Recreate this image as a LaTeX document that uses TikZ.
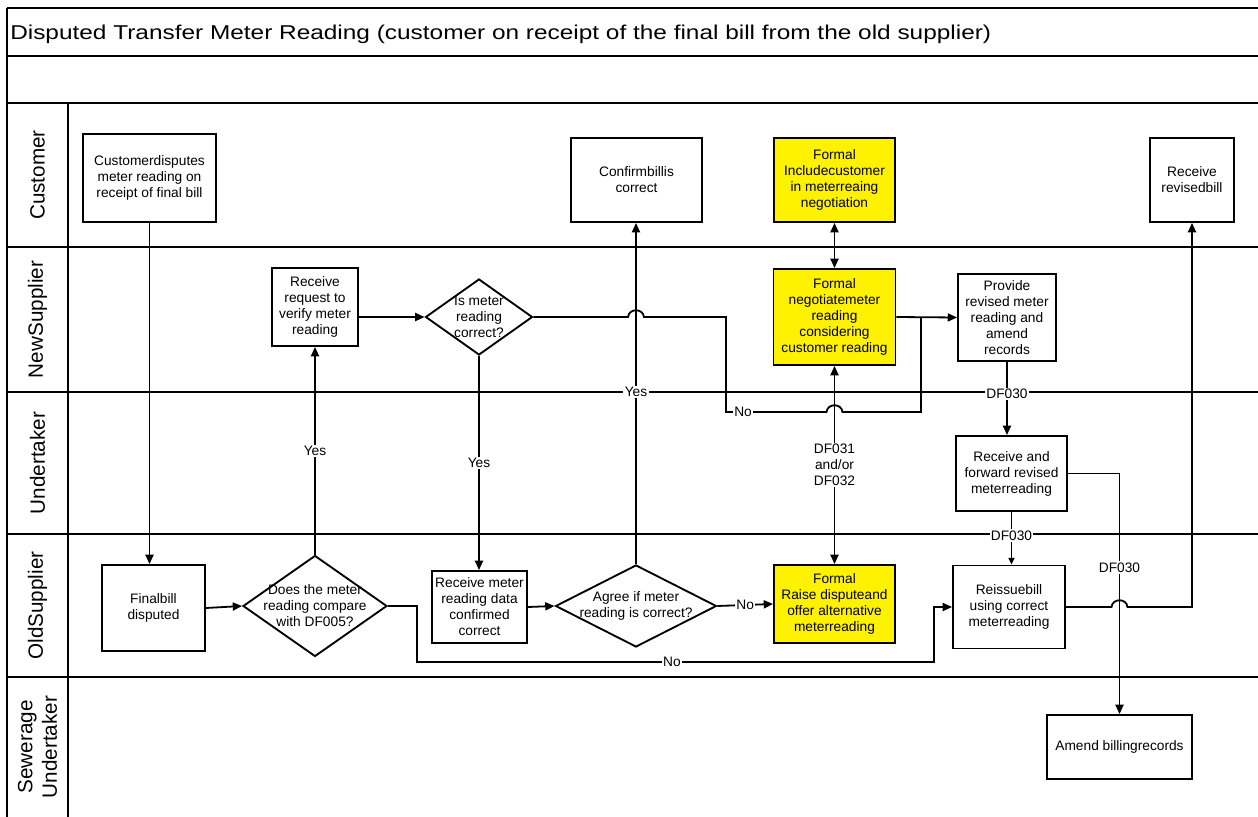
\documentclass[tikz,border=0pt]{standalone}
\usepackage{fontspec}
\setmainfont{Liberation Sans}
\newfontfamily\headingfont[FakeStretch=1.22]{Liberation Sans}
\usetikzlibrary{arrows.meta,shapes.geometric}

\tikzset{
  body/.style={font=\fontsize{10.3}{12}\selectfont},
  box/.style={draw, line width=1.4pt, fill=white, align=center, inner sep=1pt, body},
  hot/.style={box, fill=yellow},
  decision/.style={draw, shape=diamond, line width=1.4pt, fill=white, inner sep=0pt},
  dtext/.style={body, align=center, inner sep=0pt},
  lane/.style={line width=1.6pt},
  lanelabel/.style={rotate=90, font=\fontsize{15.5}{18.5}\selectfont, align=center},
  conn/.style={line width=1.35pt},
  arr/.style={conn, -{Triangle[length=7pt,width=6pt]}},
  smallarr/.style={conn, -{Triangle[length=5pt,width=4.5pt]}},
  darr/.style={conn, {Triangle[length=7pt,width=6pt]}-{Triangle[length=7pt,width=6pt]}},
  lbl/.style={fill=white, inner sep=1pt, body, align=center}
}

\begin{document}
\begin{tikzpicture}[x=0.75pt, y=-0.75pt]
\useasboundingbox (0,0) rectangle (1258,817);

% frame, title rows and swimlanes
\draw[lane] (7,8) -- (1258,8);
\draw[lane] (7,56) -- (1258,56);
\draw[lane] (7,103) -- (1258,103);
\draw[lane] (7,247) -- (1258,247);
\draw[lane] (7,392) -- (1258,392);
\draw[lane] (7,534) -- (1258,534);
\draw[lane] (7,677) -- (1258,677);
\draw[lane] (7,8) -- (7,817);
\draw[lane] (68,103) -- (68,817);

\node[anchor=base west, font=\headingfont\fontsize{15}{18}\selectfont, inner sep=0pt] (title) at (10,40)
  {Disputed Transfer Meter Reading (customer on receipt of the final bill from the old supplier)};

\node[lanelabel] (lcust) at (37.5,175) {Customer};
\node[lanelabel] (lnew) at (37.5,319.5) {NewSupplier};
\node[lanelabel] (lund) at (37.5,463) {Undertaker};
\node[lanelabel] (lold) at (37.5,605.5) {OldSupplier};
\node[lanelabel] (lsew) at (37.5,747) {Sewerage\\Undertaker};

% process steps
\node[box, minimum width=99.75pt, minimum height=66pt] (cust) at (149.5,178)
  {Customerdisputes\\meter reading on\\receipt of final bill};
\node[box, minimum width=98.25pt, minimum height=63pt] (conf) at (636.5,180)
  {Confirmbillis\\correct};
\node[hot, minimum width=90.75pt, minimum height=63pt] (incl) at (834.5,180)
  {Formal\\Includecustomer\\in meterreaing\\negotiation};
\node[box, minimum width=63pt, minimum height=63pt] (rrb) at (1192,180)
  {Receive\\revisedbill};

\node[box, minimum width=64.5pt, minimum height=58.5pt] (rreq) at (315,307)
  {Receive\\request to\\verify meter\\reading};
\node[decision, minimum width=80.25pt, minimum height=57pt,
  label={[dtext]center:Is meter\\reading\\correct?}] (isd) at (479,317) {};
\node[hot, minimum width=91.5pt, minimum height=72pt] (nego) at (834.5,317)
  {Formal\\negotiatemeter\\reading\\considering\\customer reading};
\node[box, minimum width=73.5pt, minimum height=65.25pt] (prov) at (1007,317.5)
  {Provide\\revised meter\\reading and\\amend\\records};

\node[box, minimum width=83.25pt, minimum height=56.25pt] (rfwd) at (1011.5,473.5)
  {Receive and\\forward revised\\meterreading};

\node[box, minimum width=77.25pt, minimum height=64.5pt] (fb) at (153.5,608)
  {Finalbill\\disputed};
\node[decision, minimum width=108pt, minimum height=75.75pt,
  label={[dtext]center:Does the meter\\reading compare\\with DF005?}] (dsd) at (315,606) {};
\node[box, minimum width=71.25pt, minimum height=54pt] (rmd) at (479.5,607)
  {Receive meter\\reading data\\confirmed\\correct};
\node[decision, minimum width=120.75pt, minimum height=61.5pt,
  label={[dtext]center:Agree if meter\\reading is correct?}] (agd) at (636,606) {};
\node[hot, minimum width=90.75pt, minimum height=58.5pt] (raise) at (834.5,604)
  {Formal\\Raise disputeand\\offer alternative\\meterreading};
\node[box, minimum width=84pt, minimum height=62.25pt] (reis) at (1009,607)
  {Reissuebill\\using correct\\meterreading};

\node[box, minimum width=108.75pt, minimum height=48pt] (amend) at (1119.5,747)
  {Amend billingrecords};

% bend points of the routed connectors
\coordinate (nA) at (726,317);
\coordinate (nB) at (726,412);
\coordinate (nC) at (921,412);
\coordinate (b1) at (417,606);
\coordinate (b2) at (417,662);
\coordinate (b3) at (934,662);

% connectors
\draw[arr] (cust.south) -- (cust.south |- fb.north);
\draw[arr] (fb.east) -- (dsd.west);
\draw[arr] (dsd.north) -- node[lbl]{Yes} (rreq.south);
\draw[arr] (rreq.east |- isd.west) -- (isd.west);
\draw[arr] (isd.south) -- node[lbl]{Yes} (isd.south |- rmd.north);
\draw[arr] (rmd.east) -- (agd.west);
\draw[arr] (agd.north) -- node[lbl, pos=0.505]{Yes} (agd.north |- conf.south);
\draw[arr] (agd.east) -- node[lbl]{No} (raise.west);
\draw[darr] (raise.north) -- node[lbl]{DF031\\and/or\\DF032} (nego.south);
\draw[darr] (nego.north) -- (incl.south);
\draw[arr] (nego.east) -- (prov.west);

% "No" branch of the new supplier check, hopping over two verticals
\draw[conn] (isd.east) -- (628,317) .. controls (629,308) and (643,308) .. (644,317)
  -- (nA) -- (nB) -- node[lbl, pos=0.17]{No} (826.5,412)
  .. controls (827.5,403) and (841.5,403) .. (842.5,412)
  -- (nC) -- (nC |- prov.west);

\draw[arr] (prov.south) -- node[lbl, pos=0.44]{DF030} (prov.south |- rfwd.north);
\draw[smallarr] (rfwd.south) -- node[lbl, pos=0.45]{DF030} (rfwd.south |- reis.north);
\draw[arr] (rfwd.east) -- (rfwd.east -| amend.north) -- node[lbl, pos=0.39]{DF030} (amend.north);

% revised bill back to the customer, hopping over the billing-records feed
\draw[arr] (reis.east) -- (1111.5,607) .. controls (1112.5,598) and (1126.5,598) .. (1127.5,607)
  -- (rrb.south |- reis.east) -- (rrb.south);

% "No" branch of the DF005 comparison
\draw[arr] (dsd.east) -- (b1) -- (b2) -- node[lbl, pos=0.493]{No} (b3) -- (b3 |- reis.west) -- (reis.west);
\end{tikzpicture}
\end{document}
